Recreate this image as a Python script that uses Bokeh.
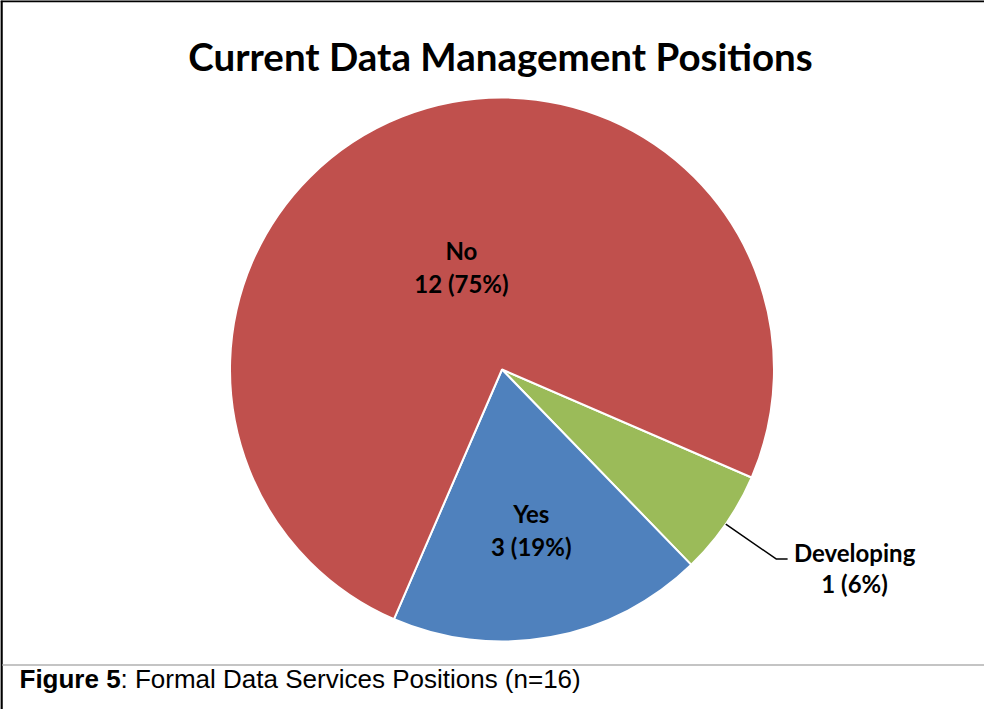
import math
from bokeh.plotting import figure
from bokeh.models import Range1d
from bokeh.core.properties import value
from bokeh.embed import file_html
from bokeh.resources import INLINE

# ---- data ----
categories = ["Developing", "Yes", "No"]
counts = [1, 3, 12]
colors = ["#9BBB59", "#4F81BD", "#C0504D"]
title_text = "Current Data Management Positions"
caption_bold = "Figure 5"
caption_rest = ": Formal Data Services Positions (n=16)"

# ---- layout constants ----
W, H = 984, 709
CX, CY, R = 501.5, 340.0, 272.0
START_DEG = -23.4
LABEL_FONT = "Lato"
LABEL_SIZE = "24px"

total = sum(counts)
p = figure(width=W, height=H, x_range=Range1d(0, W), y_range=Range1d(0, H),
           output_backend="svg", toolbar_location=None, min_border=0)
p.axis.visible = False
p.grid.visible = False
p.outline_line_color = None
p.background_fill_color = "white"
p.border_fill_color = "white"

# frame lines
p.segment(x0=[1], y0=[0], x1=[1], y1=[H], line_color="black", line_width=2.5)
p.segment(x0=[0], y0=[H - 0.5], x1=[W], y1=[H - 0.5], line_color="black", line_width=2.5)
p.segment(x0=[2], y0=[44.5], x1=[W], y1=[44.5], line_color="#C4C4C4", line_width=2)

# pie (clockwise from START_DEG)
starts, ends, mids = [], [], []
a = START_DEG
for c in counts:
    sweep = 360.0 * c / total
    a_end = a - sweep
    starts.append(math.radians(a_end))
    ends.append(math.radians(a))
    mids.append(math.radians((a + a_end) / 2))
    a = a_end

p.wedge(x=[CX] * len(counts), y=[CY] * len(counts), radius=R,
        start_angle=starts, end_angle=ends, direction="anticlock",
        fill_color=colors, line_color="white", line_width=2)

def pct(c):
    return f"{c} ({round(100 * c / total)}%)"

# labels
fracs = {"Yes": 0.6, "No": 0.405}
for cat, c, m in zip(categories, counts, mids):
    if cat in fracs:
        lx = CX + fracs[cat] * R * math.cos(m)
        ly = CY + fracs[cat] * R * math.sin(m)
        p.text(x=[lx, lx], y=[ly + 16.5, ly - 16.5], text=[cat, pct(c)],
               text_font=value(LABEL_FONT), text_font_style="bold",
               text_font_size=LABEL_SIZE, text_align="center", text_baseline="middle",
               text_color="black")
    else:
        sx = CX + R * math.cos(m)
        sy = CY + R * math.sin(m)
        ex = CX + 1.225 * R * math.cos(m)
        ey = CY + 1.225 * R * math.sin(m)
        p.line(x=[sx, ex, ex + 11.5], y=[sy, ey, ey], line_color="black", line_width=1.5)
        tx = ex + 11.5 + 67
        ty = ey - 9
        p.text(x=[tx, tx], y=[ty + 15.7, ty - 15.7], text=[cat, pct(c)],
               text_font=value(LABEL_FONT), text_font_style="bold",
               text_font_size=LABEL_SIZE, text_align="center", text_baseline="middle",
               text_color="black")

# title
p.text(x=[500], y=[H - 55.5], text=[title_text], text_font=value(LABEL_FONT),
       text_font_style="bold", text_font_size="38.5px", text_align="center",
       text_baseline="alphabetic", text_color="black")

# caption
p.text(x=[19], y=[H - 686 + 8], text=[caption_bold], text_font=value("Liberation Sans"),
       text_font_style="bold", text_font_size="26px", text_align="left",
       text_baseline="alphabetic", text_color="black")
p.text(x=[120], y=[H - 686 + 8], text=[caption_rest], text_font=value("Liberation Sans"),
       text_font_style="normal", text_font_size="26px", text_align="left",
       text_baseline="alphabetic", text_color="black")

open("out.html", "w").write(file_html(p, INLINE))
